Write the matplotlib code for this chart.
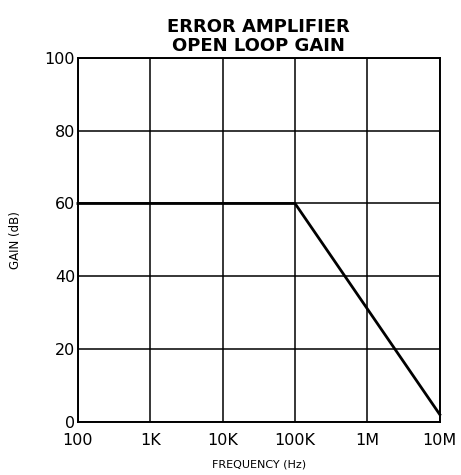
import matplotlib
matplotlib.use("Agg")
import matplotlib.pyplot as plt

# open loop gain curve (frequency in Hz, gain in dB)
freq = [100, 1e5, 1e7]
gain = [60, 60, 2]

xticks = [1e2, 1e3, 1e4, 1e5, 1e6, 1e7]
xlabels = ["100", "1K", "10K", "100K", "1M", "10M"]
yticks = [0, 20, 40, 60, 80, 100]

plt.rcParams['font.family'] = ['DejaVu Sans']

fig = plt.figure(figsize=(4.61, 4.75), dpi=100)
ax = fig.add_axes([0.169, 0.112, 0.785, 0.766])

ax.set_xscale("log")
ax.set_xlim(1e2, 1e7)
ax.set_ylim(0, 100)
ax.set_xticks(xticks)
ax.set_xticklabels(xlabels)
ax.minorticks_off()
ax.set_yticks(yticks)
ax.tick_params(length=0, labelsize=11.5)
ax.tick_params(axis="x", pad=8)
ax.tick_params(axis="y", pad=2)
ax.grid(True, color="black", linewidth=1.1)
for s in ax.spines.values():
    s.set_linewidth(1.4)

ax.plot(freq, gain, color="black", linewidth=2, clip_on=False)

ax.set_title("ERROR AMPLIFIER\nOPEN LOOP GAIN", fontsize=13, fontweight="bold",
             linespacing=1.05, pad=5)
ax.set_xlabel("FREQUENCY (Hz)", fontsize=8, labelpad=8)
ax.set_ylabel("GAIN (dB)", fontsize=8.5, labelpad=16)

fig.savefig("out.png", dpi=100)
